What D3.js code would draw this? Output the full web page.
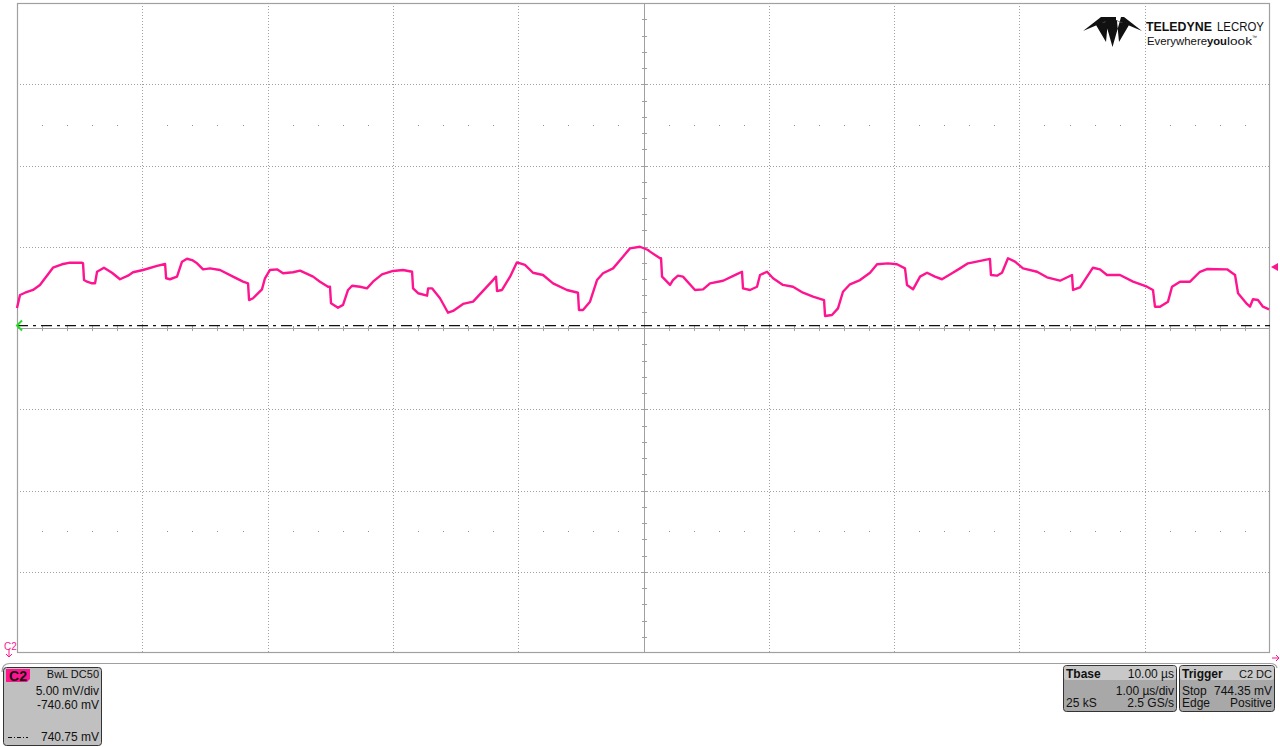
<!DOCTYPE html>
<html>
<head>
<meta charset="utf-8">
<script src="https://cdn.jsdelivr.net/npm/d3@7"></script>
<style>
  html, body { margin: 0; padding: 0; background: #fff; }
  svg { display: block; font-family: "Liberation Sans", Arial, sans-serif; }
</style>
</head>
<body>
<svg id="chart" width="1280" height="747"></svg>
<script>
// ---- data (time in µs, voltage in mV) ----
const timeUs = [
  -5.000,-4.976,-4.936,-4.872,-4.817,-4.737,-4.713,-4.641,-4.577,-4.481,-4.473,-4.465,-4.441,-4.401,-4.377,-4.361,-4.306,-4.242,-4.178,-4.114,
  -4.074,-3.994,-3.882,-3.818,-3.810,-3.779,-3.723,-3.683,-3.643,-3.603,-3.563,-3.515,-3.460,-3.380,-3.276,-3.196,-3.156,-3.148,-3.116,-3.045,
  -3.021,-2.981,-2.925,-2.877,-2.797,-2.741,-2.637,-2.582,-2.518,-2.502,-2.494,-2.438,-2.398,-2.358,-2.326,-2.262,-2.207,-2.159,-2.087,-1.999,
  -1.919,-1.847,-1.839,-1.799,-1.727,-1.719,-1.688,-1.624,-1.560,-1.520,-1.440,-1.360,-1.201,-1.177,-1.169,-1.129,-1.065,-1.010,-0.946,-0.882,
  -0.802,-0.722,-0.611,-0.523,-0.515,-0.483,-0.427,-0.371,-0.323,-0.243,-0.164,-0.108,-0.028,0.036,0.052,0.132,0.140,0.148,0.212,0.235,
  0.275,0.315,0.411,0.475,0.531,0.635,0.746,0.786,0.794,0.850,0.906,0.930,0.986,1.034,1.113,1.193,1.273,1.353,1.441,1.449,
  1.504,1.552,1.592,1.648,1.728,1.808,1.864,1.951,2.023,2.087,2.103,2.151,2.207,2.263,2.326,2.382,2.462,2.526,2.590,2.630,
  2.765,2.773,2.821,2.861,2.909,2.965,3.029,3.141,3.220,3.324,3.420,3.428,3.484,3.540,3.587,3.643,3.699,3.803,3.907,4.018,
  4.066,4.082,4.122,4.186,4.218,4.282,4.362,4.441,4.497,4.657,4.721,4.745,4.816,4.840,4.864,4.904,4.944,4.992
];
const voltageMv = [
  741.83,742.63,742.77,742.94,743.25,744.06,744.31,744.52,744.62,744.62,744.58,743.55,743.45,743.35,743.35,744.06,744.31,744.00,743.60,743.82,
  744.03,744.17,744.42,744.54,743.66,743.60,743.76,744.68,744.86,744.78,744.58,744.21,744.27,744.17,743.76,743.45,743.35,742.32,742.43,742.98,
  743.66,744.17,744.21,743.97,744.03,744.13,743.76,743.45,743.14,743.14,742.12,741.85,742.02,742.94,743.20,743.14,743.04,743.45,743.90,744.11,
  744.17,744.06,743.04,742.74,742.59,743.04,743.04,742.43,741.54,741.65,742.08,742.22,743.55,743.76,742.88,742.94,743.76,744.64,744.48,744.00,
  743.86,743.35,742.94,742.77,741.71,741.71,742.22,743.55,743.97,744.27,744.99,745.50,745.60,745.40,745.30,744.89,744.89,743.76,743.25,743.55,
  743.82,743.76,742.94,742.98,743.35,743.51,743.92,744.06,743.04,742.94,743.14,743.86,744.06,743.66,743.25,743.14,742.77,742.53,742.32,741.34,
  741.40,741.81,742.83,743.29,743.55,744.00,744.52,744.58,744.52,744.27,743.25,742.98,743.76,744.00,743.76,743.60,743.97,744.27,744.58,744.64,
  744.85,743.86,743.82,744.00,744.89,744.68,744.27,744.06,743.72,743.51,743.86,742.94,743.10,743.76,744.31,744.21,743.86,743.86,743.45,743.14,
  742.94,741.91,741.91,742.22,743.14,743.45,743.45,744.06,744.23,744.21,743.86,742.74,742.08,741.91,742.37,742.32,741.91,741.75
];

// scope settings
const voltsPerDiv = 5.00;      // mV/div
const offsetMv = -740.60;      // mV
const refLevelMv = 740.75;     // mV (dash-dot reference)
const triggerMv = 744.35;      // mV
const timePerDiv = 1.00;       // µs/div
const xDivs = 10, yDivs = 8;

const channelLines = ["5.00 mV/div", "-740.60 mV"];
const tbaseRows = [["Tbase", "10.00 µs"], ["", "1.00 µs/div"], ["25 kS", "2.5 GS/s"]];
const triggerRows = [["Trigger", "C2  DC"], ["Stop", "744.35 mV"], ["Edge", "Positive"]];

// ---- layout ----
const P = { left: 17, right: 1270, top: 3, bottom: 653 };
const svg = d3.select("#chart");
const centerMv = -offsetMv;

const x = d3.scaleLinear().domain([-xDivs/2*timePerDiv, xDivs/2*timePerDiv]).range([P.left, P.right]);
const y = d3.scaleLinear().domain([centerMv - yDivs/2*voltsPerDiv, centerMv + yDivs/2*voltsPerDiv]).range([P.bottom, P.top]);

const gridColor = "#a0a0a0";
const g = svg.append("g");

// dotted grid lines
const xGrid = d3.range(-xDivs/2 + 1, xDivs/2).filter(d => d !== 0).map(d => d * timePerDiv);
const yGrid = d3.range(-yDivs/2 + 1, yDivs/2).filter(d => d !== 0).map(d => centerMv + d * voltsPerDiv);
g.selectAll(".vg").data(xGrid).join("line")
  .attr("x1", d => Math.round(x(d)) + 0.5).attr("x2", d => Math.round(x(d)) + 0.5)
  .attr("y1", P.top).attr("y2", P.bottom)
  .attr("stroke", gridColor).attr("stroke-width", 1).attr("stroke-dasharray", "1,2");
g.selectAll(".hg").data(yGrid).join("line")
  .attr("y1", d => Math.round(y(d)) + 0.5).attr("y2", d => Math.round(y(d)) + 0.5)
  .attr("x1", P.left).attr("x2", P.right)
  .attr("stroke", gridColor).attr("stroke-width", 1).attr("stroke-dasharray", "1,2");

// minor dots rows
const dotRows = [centerMv + 2.5 * voltsPerDiv, centerMv - 2.5 * voltsPerDiv];
const dotCols = d3.range(1, xDivs * 5).filter(i => i % 5 !== 0).map(i => x.domain()[0] + i * timePerDiv / 5);
dotRows.forEach(r => {
  g.selectAll(null).data(dotCols).join("rect")
    .attr("x", d => Math.round(x(d))).attr("y", Math.round(y(r)))
    .attr("width", 1).attr("height", 1).attr("fill", "#909090");
});

// centre axes with ticks
const cx = Math.round(x(0)) + 0.5, cy = Math.round(y(centerMv)) + 0.5;
g.append("line").attr("x1", cx).attr("x2", cx).attr("y1", P.top).attr("y2", P.bottom).attr("stroke", gridColor);
g.append("line").attr("y1", cy).attr("y2", cy).attr("x1", P.left).attr("x2", P.right).attr("stroke", gridColor);
const vTicks = d3.range(1, yDivs * 5).map(i => y.domain()[0] + i * voltsPerDiv / 5);
g.selectAll(null).data(vTicks).join("line")
  .attr("x1", cx - 2.5).attr("x2", cx + 2.5)
  .attr("y1", d => Math.round(y(d)) + 0.5).attr("y2", d => Math.round(y(d)) + 0.5)
  .attr("stroke", gridColor);
const hTicks = d3.range(1, xDivs * 5).map(i => x.domain()[0] + i * timePerDiv / 5);
g.selectAll(null).data(hTicks).join("line")
  .attr("y1", cy - 2.5).attr("y2", cy + 2.5)
  .attr("x1", d => Math.round(x(d)) + 0.5).attr("x2", d => Math.round(x(d)) + 0.5)
  .attr("stroke", gridColor);

// border
g.append("rect").attr("x", P.left + 0.5).attr("y", P.top + 0.5)
  .attr("width", P.right - P.left - 1).attr("height", P.bottom - P.top - 1)
  .attr("fill", "none").attr("stroke", gridColor).attr("stroke-width", 1.2);

// reference dash-dot line
g.append("line").attr("x1", P.left).attr("x2", P.right)
  .attr("y1", y(refLevelMv)).attr("y2", y(refLevelMv))
  .attr("stroke", "#111").attr("stroke-width", 1.2).attr("stroke-dasharray", "11,5,3,5");

// waveform
const traceColor = "#ff1490";
const pts = timeUs.map((t, i) => [t, voltageMv[i]]);
svg.append("path").datum(pts)
  .attr("d", d3.line().x(d => x(d[0])).y(d => y(d[1])))
  .attr("fill", "none").attr("stroke", traceColor).attr("stroke-width", 2.4)
  .attr("stroke-linejoin", "round");

// left offset marker (green arrow)
const ly = y(refLevelMv);
svg.append("path").attr("d", `M${P.left + 5},${ly - 5} L${P.left},${ly} L${P.left + 5},${ly + 5}`)
  .attr("fill", "none").attr("stroke", "#22dd22").attr("stroke-width", 2);

// right trigger marker
const ty = y(triggerMv);
svg.append("path").attr("d", `M${P.right + 1},${ty} L${P.right + 8},${ty - 4} L${P.right + 8},${ty + 4} Z`)
  .attr("fill", traceColor);

// C2 marker bottom left
svg.append("text").attr("x", 4).attr("y", 650).attr("font-size", 10).attr("fill", traceColor).text("C2");
svg.append("path").attr("d", "M9,649 L9,657 M6,654 L9,657 L12,654").attr("stroke", traceColor).attr("fill", "none").attr("stroke-width", 1);
// arrow bottom right
svg.append("path").attr("d", "M1272,658 L1279,658 M1276,655 L1279,658 L1276,661").attr("stroke", traceColor).attr("fill", "none").attr("stroke-width", 1);

// bottom panel separator
svg.append("path").attr("d", "M2,672 Q2,663.5 10,663.5 L1270,663.5 Q1276,663.5 1277,668")
  .attr("fill", "none").attr("stroke", "#a0a0a0").attr("stroke-width", 1.2);

// ---- logo ----
const logo = svg.append("g").attr("fill", "#111");
logo.append("path").attr("d",
  "M1083,31 L1101,17 L1109,17 L1109,20 Z " +
  "M1142,31 L1124,17 L1116,17 L1116,20 Z " +
  "M1104,17 L1121,17 L1112.5,47 Z " +
  "M1096,25 L1108,21 L1106,42 Z " +
  "M1129,25 L1117,21 L1119,42 Z");
const logoWords = [
  { t: "TELEDYNE", x: 1146, y: 30.5, len: 66, size: 13.5, bold: true },
  { t: "LECROY", x: 1217, y: 30.5, len: 47, size: 13.5, bold: false },
  { t: "Everywhere", x: 1147, y: 45, len: 60, size: 11.5, bold: false },
  { t: "you", x: 1207, y: 45, len: 20, size: 11.5, bold: true },
  { t: "look", x: 1227, y: 45, len: 25, size: 11.5, bold: false },
  { t: "™", x: 1252, y: 39, len: 5, size: 5, bold: false }
];
logoWords.forEach(w => {
  logo.append("text").attr("x", w.x).attr("y", w.y).attr("font-size", w.size)
    .attr("font-weight", w.bold ? "bold" : null)
    .attr("textLength", w.len).attr("lengthAdjust", "spacingAndGlyphs").text(w.t);
});

// ---- channel box ----
const cb = svg.append("g").attr("font-size", 12).attr("fill", "#111");
cb.append("rect").attr("x", 3.5).attr("y", 667.5).attr("width", 98).attr("height", 78).attr("rx", 3)
  .attr("fill", "#c0c0c0").attr("stroke", "#333");
cb.append("path").attr("d", "M6,669 L30,669 L30,679 L27,682 L6,682 Z").attr("fill", traceColor);
cb.append("text").attr("x", 18).attr("y", 680.5).attr("text-anchor", "middle").attr("font-size", 14).attr("font-weight", "bold").text("C2");
cb.append("text").attr("x", 99).attr("y", 678).attr("text-anchor", "end").attr("font-size", 11).text("BwL DC50");
cb.selectAll(null).data(channelLines).join("text")
  .attr("x", 99).attr("y", (d, i) => 695 + i * 13.5).attr("text-anchor", "end").text(d => d);
cb.append("text").attr("x", 99).attr("y", 741).attr("text-anchor", "end").text(refLevelMv.toFixed(2) + " mV");
cb.append("line").attr("x1", 8).attr("x2", 28).attr("y1", 737.5).attr("y2", 737.5)
  .attr("stroke", "#111").attr("stroke-dasharray", "4,2,1,2");

// ---- info boxes ----
function infoBox(x0, w, rows) {
  const b = svg.append("g").attr("font-size", 12).attr("fill", "#111");
  b.append("rect").attr("x", x0 + 0.5).attr("y", 665.5).attr("width", w).attr("height", 46).attr("rx", 3)
    .attr("fill", "#a8a8a8").attr("stroke", "#333");
  b.append("rect").attr("x", x0 + 1).attr("y", 666).attr("width", w - 1).attr("height", 14).attr("rx", 2.5)
    .attr("fill", "#c8c8c8");
  const base = [678, 694.5, 707];
  rows.forEach((r, i) => {
    b.append("text").attr("x", x0 + 3).attr("y", base[i]).attr("font-weight", i === 0 ? "bold" : null).text(r[0]);
    b.append("text").attr("x", x0 + w - 2).attr("y", base[i]).attr("text-anchor", "end")
      .attr("font-size", (i === 0 && r[0] === "Trigger") ? 11 : 12).text(r[1]);
  });
}
infoBox(1063, 113, tbaseRows);
infoBox(1179, 95, triggerRows);
</script>
</body>
</html>
